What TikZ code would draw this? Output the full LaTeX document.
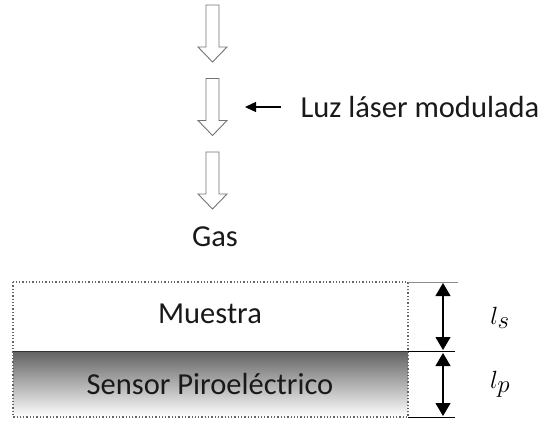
\documentclass[tikz,border=0pt]{standalone}
\usepackage{amsmath}
\usepackage{fontspec}
\setmainfont{Carlito}
\usepackage{xcolor}
\usetikzlibrary{positioning}
\usetikzlibrary{arrows.meta}

\tikzset{
    hollow/.style={draw=black!55, line width=0.9pt, fill=white},
    layerbox/.style={draw=black!60, dotted, line width=1.3pt},
    dimline/.style={line width=1pt},
    dimarrow/.style={line width=1.1pt, {Triangle[length=13pt,width=15pt]}-{Triangle[length=13pt,width=15pt]}},
    label/.style={font=\fontsize{30.5}{33}\selectfont, text=black!90},
    mathlabel/.style={font=\fontsize{34}{36}\selectfont}
}

\begin{document}
\begin{tikzpicture}[x=1pt, y=-1pt]
    \useasboundingbox (0,0) rectangle (540,424);

    % flechas de luz
    \foreach \t in {5,78.5,152} {
        \draw[hollow] (206,\t) -- (219,\t) -- (219,\t+42) -- (227,\t+42)
            -- (212.5,\t+57) -- (198,\t+42) -- (206,\t+42) -- cycle;
    }
    \coordinate (haz) at (245,107);
    \node[label, anchor=west] (luz) at (297,107) {Luz l\'aser modulada};
    \draw[line width=1.3pt, -{Triangle[length=11pt,width=10pt]}] (281,107) -- (haz);
    \node[label] (gas) at (215,237) {Gas};

    % capas
    \shade[top color=black!62, bottom color=white] (13,351) rectangle (408,417);
    \draw[layerbox] (13,282) rectangle (408,417);
    \draw[line width=1pt, black!80] (13,351) -- (408,351);
    \node[label] (muestra) at (210,314) {Muestra};
    \node[label] (sensor) at (210,384) {Sensor Piroel\'ectrico};

    % cotas
    \draw[dimline, black!45] (408,282) -- (458,282);
    \draw[dimline] (408,351) -- (455,351);
    \draw[dimline] (408,417) -- (455,417);
    \coordinate (s1) at (443,283);
    \coordinate (s2) at (443,350);
    \coordinate (p1) at (443,353);
    \coordinate (p2) at (443,416);
    \draw[dimarrow] (s1) -- (s2);
    \draw[dimarrow] (p1) -- (p2);
    \node[mathlabel] (ls) at (500,318) {$l_s$};
    \node[mathlabel] (lp) at (500,384) {$l_p$};
\end{tikzpicture}
\end{document}
